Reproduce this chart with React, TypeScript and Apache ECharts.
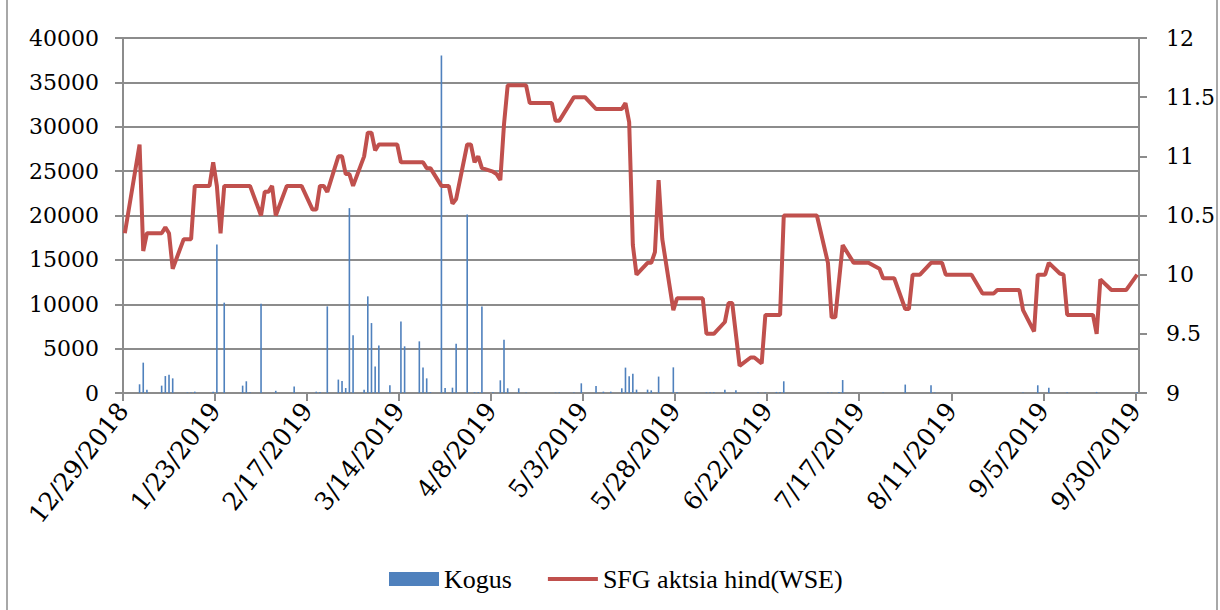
import React, { useEffect, useRef } from "react";
import * as echarts from "echarts";

// ---- data ----
const START_DATE = "2018-12-29";
const AXIS_END_DAY = 276;
const LABEL_STEP_DAYS = 25;

const leftTicks = [0, 5000, 10000, 15000, 20000, 25000, 30000, 35000, 40000];
const rightTicks = [9, 9.5, 10, 10.5, 11, 11.5, 12];

const priceDates = [
  "2018-12-29", "2019-01-02", "2019-01-03", "2019-01-04", "2019-01-08", "2019-01-09", "2019-01-10", "2019-01-11",
  "2019-01-14", "2019-01-16", "2019-01-17", "2019-01-21", "2019-01-22", "2019-01-23", "2019-01-24", "2019-01-25",
  "2019-02-01", "2019-02-04", "2019-02-05", "2019-02-06", "2019-02-07", "2019-02-08", "2019-02-11", "2019-02-15",
  "2019-02-18", "2019-02-19", "2019-02-20", "2019-02-21", "2019-02-22", "2019-02-25", "2019-02-26", "2019-02-27",
  "2019-02-28", "2019-03-01", "2019-03-04", "2019-03-05", "2019-03-06", "2019-03-07", "2019-03-08", "2019-03-13",
  "2019-03-14", "2019-03-20", "2019-03-21", "2019-03-22", "2019-03-25", "2019-03-27", "2019-03-28", "2019-03-29",
  "2019-04-01", "2019-04-02", "2019-04-03", "2019-04-04", "2019-04-05", "2019-04-08", "2019-04-09", "2019-04-10",
  "2019-04-11", "2019-04-12", "2019-04-17", "2019-04-18", "2019-04-24", "2019-04-25", "2019-04-26", "2019-04-30",
  "2019-05-03", "2019-05-06", "2019-05-13", "2019-05-14", "2019-05-15", "2019-05-16", "2019-05-17", "2019-05-20",
  "2019-05-21", "2019-05-22", "2019-05-23", "2019-05-24", "2019-05-27", "2019-05-28", "2019-06-04", "2019-06-05",
  "2019-06-07", "2019-06-10", "2019-06-11", "2019-06-12", "2019-06-14", "2019-06-17", "2019-06-18", "2019-06-20",
  "2019-06-21", "2019-06-25", "2019-06-26", "2019-07-05", "2019-07-08", "2019-07-09", "2019-07-10", "2019-07-12",
  "2019-07-15", "2019-07-19", "2019-07-22", "2019-07-23", "2019-07-26", "2019-07-29", "2019-07-30", "2019-07-31",
  "2019-08-02", "2019-08-05", "2019-08-08", "2019-08-09", "2019-08-16", "2019-08-19", "2019-08-22", "2019-08-23",
  "2019-08-29", "2019-08-30", "2019-09-02", "2019-09-03", "2019-09-05", "2019-09-06", "2019-09-09", "2019-09-10",
  "2019-09-11", "2019-09-18", "2019-09-19", "2019-09-20", "2019-09-23", "2019-09-27", "2019-09-30",
];
const priceValues = [
  10.35, 11.1, 10.2, 10.35, 10.35, 10.4, 10.35, 10.05,
  10.3, 10.3, 10.75, 10.75, 10.95, 10.75, 10.35, 10.75,
  10.75, 10.5, 10.7, 10.7, 10.75, 10.5, 10.75, 10.75,
  10.55, 10.55, 10.75, 10.75, 10.7, 11.0, 11.0, 10.85,
  10.85, 10.75, 11.0, 11.2, 11.2, 11.05, 11.1, 11.1,
  10.95, 10.95, 10.9, 10.9, 10.75, 10.75, 10.6, 10.64,
  11.1, 11.1, 10.95, 11.0, 10.9, 10.87, 10.85, 10.8,
  11.27, 11.6, 11.6, 11.45, 11.45, 11.3, 11.3, 11.5,
  11.5, 11.4, 11.4, 11.45, 11.29, 10.25, 10.0, 10.1,
  10.1, 10.19, 10.8, 10.3, 9.7, 9.8, 9.8, 9.5,
  9.5, 9.6, 9.76, 9.76, 9.23, 9.3, 9.3, 9.25,
  9.66, 9.66, 10.5, 10.5, 10.1, 9.64, 9.64, 10.25,
  10.1, 10.1, 10.05, 9.97, 9.97, 9.71, 9.71, 10.0,
  10.0, 10.1, 10.1, 10.0, 10.0, 9.84, 9.84, 9.87,
  9.87, 9.7, 9.52, 10.0, 10.0, 10.1, 10.01, 10.0,
  9.66, 9.66, 9.5, 9.96, 9.87, 9.87, 10.0,
];

const volumeDates = [
  "2019-01-02", "2019-01-03", "2019-01-04", "2019-01-08", "2019-01-09", "2019-01-10", "2019-01-11", "2019-01-15",
  "2019-01-16", "2019-01-17", "2019-01-22", "2019-01-23", "2019-01-25", "2019-01-30", "2019-01-31", "2019-02-01",
  "2019-02-04", "2019-02-08", "2019-02-13", "2019-02-19", "2019-02-20", "2019-02-22", "2019-02-25", "2019-02-26",
  "2019-02-27", "2019-02-28", "2019-03-01", "2019-03-04", "2019-03-05", "2019-03-06", "2019-03-07", "2019-03-08",
  "2019-03-11", "2019-03-14", "2019-03-15", "2019-03-19", "2019-03-20", "2019-03-21", "2019-03-22", "2019-03-25",
  "2019-03-26", "2019-03-28", "2019-03-29", "2019-04-01", "2019-04-03", "2019-04-04", "2019-04-05", "2019-04-08",
  "2019-04-10", "2019-04-11", "2019-04-12", "2019-04-15", "2019-04-17", "2019-04-25", "2019-04-26", "2019-04-30",
  "2019-05-02", "2019-05-06", "2019-05-08", "2019-05-10", "2019-05-13", "2019-05-14", "2019-05-15", "2019-05-16",
  "2019-05-17", "2019-05-20", "2019-05-21", "2019-05-23", "2019-05-27", "2019-05-28", "2019-06-05", "2019-06-06",
  "2019-06-07", "2019-06-10", "2019-06-13", "2019-06-19", "2019-06-21", "2019-06-24", "2019-06-25", "2019-06-26",
  "2019-07-08", "2019-07-09", "2019-07-11", "2019-07-12", "2019-07-23", "2019-07-29", "2019-08-05", "2019-08-06",
  "2019-08-30", "2019-09-03", "2019-09-06", "2019-09-11", "2019-09-19", "2019-09-30",
];
const volumeValues = [
  980, 3420, 380, 830, 1910, 2070, 1650, 60,
  60, 150, 150, 16740, 10180, 830, 1320, 80,
  10070, 250, 720, 150, 100, 9760, 1510, 1350,
  560, 20830, 6500, 380, 10890, 7880, 3000, 5340,
  870, 8070, 5260, 5820, 2860, 1650, 100, 38030,
  560, 600, 5560, 20120, 100, 100, 9760, 80,
  1430, 6010, 530, 530, 60, 60, 60, 60,
  1090, 790, 150, 150, 530, 2860, 1880, 2180,
  380, 380, 300, 1850, 2890, 100, 80, 80,
  80, 380, 300, 60, 60, 120, 120, 1320,
  60, 60, 100, 1460, 60, 950, 870, 60,
  60, 870, 600, 80, 120, 100,
];

const volumeName = "Kogus";
const priceName = "SFG aktsia hind(WSE)";

// ---- helpers ----
const DAY_MS = 86400000;
function toUTC(iso: string): number {
  const [y, m, d] = iso.split("-").map(Number);
  return Date.UTC(y, m - 1, d);
}
const START_MS = toUTC(START_DATE);
// a date sits in the middle of its one-day slot (date axis, bars between ticks)
function dayPos(iso: string): number {
  return Math.round((toUTC(iso) - START_MS) / DAY_MS) + 0.5;
}
function dayLabel(v: number): string {
  if (Math.abs(v % LABEL_STEP_DAYS) > 1e-6) return "";
  const t = new Date(START_MS + v * DAY_MS);
  return `${t.getUTCMonth() + 1}/${t.getUTCDate()}/${t.getUTCFullYear()}`;
}

const AXIS_FONT = "DejaVu Serif";
const LEGEND_FONT = "Liberation Serif";
const GRID_GRAY = "#8c8c8c";
const BLUE = "#4F81BD";
const RED = "#C0504D";

export default function App() {
  const ref = useRef<HTMLDivElement>(null);

  useEffect(() => {
    if (!ref.current) return;
    const chart = echarts.init(ref.current, null, { renderer: "svg" });

    const priceData = priceDates.map((d, i) => [dayPos(d), priceValues[i]]);
    const volumeData = volumeDates.map((d, i) => [dayPos(d), volumeValues[i]]);

    chart.setOption({
      animation: false,
      backgroundColor: "#ffffff",
      grid: {
        left: 123,
        right: 81,
        top: 38,
        bottom: 217,
        containLabel: false,
        outerBoundsMode: "none",
      },
      legend: {
        left: 384,
        top: 561,
        itemWidth: 50,
        itemHeight: 14,
        itemGap: 36,
        symbolKeepAspect: true,
        textStyle: { fontFamily: LEGEND_FONT, fontSize: 26, color: "#000" },
        data: [
          { name: volumeName, icon: "rect" },
          { name: priceName, icon: "path://M0,0 L50,0 L50,4 L0,4 Z" },
        ],
      },
      xAxis: {
        type: "value",
        min: 0,
        max: AXIS_END_DAY,
        interval: LABEL_STEP_DAYS,
        axisLine: { show: true, onZero: false, lineStyle: { color: GRID_GRAY, width: 2 } },
        axisTick: { show: true, length: 8, lineStyle: { color: GRID_GRAY, width: 2 } },
        splitLine: { show: false },
        axisLabel: {
          rotate: 52,
          margin: 13,
          fontFamily: AXIS_FONT,
          fontSize: 25,
          color: "#000",
          formatter: (v: number) => dayLabel(v),
          showMaxLabel: false,
        },
      },
      yAxis: [
        {
          type: "value",
          min: leftTicks[0],
          max: leftTicks[leftTicks.length - 1],
          interval: leftTicks[1] - leftTicks[0],
          axisLine: { show: true, lineStyle: { color: GRID_GRAY, width: 2 } },
          axisTick: { show: true, length: 8, lineStyle: { color: GRID_GRAY, width: 2 } },
          splitLine: { show: true, lineStyle: { color: GRID_GRAY, width: 2 } },
          axisLabel: {
            margin: 24,
            fontFamily: AXIS_FONT,
            fontSize: 22,
            color: "#000",
            formatter: (v: number) => String(v),
          },
        },
        {
          type: "value",
          position: "right",
          min: rightTicks[0],
          max: rightTicks[rightTicks.length - 1],
          interval: rightTicks[1] - rightTicks[0],
          axisLine: { show: true, lineStyle: { color: GRID_GRAY, width: 2 } },
          axisTick: { show: true, length: 8, lineStyle: { color: GRID_GRAY, width: 2 } },
          splitLine: { show: false },
          axisLabel: {
            margin: 27,
            fontFamily: AXIS_FONT,
            fontSize: 22,
            color: "#000",
            formatter: (v: number) => String(v),
          },
        },
      ],
      graphic: [
        {
          type: "rect",
          shape: { x: 7, y: -5, width: 1210, height: 630 },
          style: { fill: "none", stroke: "#8c8c8c", lineWidth: 1.5 },
          silent: true,
          z: -1,
        },
      ],
      series: [
        {
          name: volumeName,
          type: "bar",
          yAxisIndex: 0,
          barWidth: 1.6,
          itemStyle: { color: BLUE },
          data: volumeData,
        },
        {
          name: priceName,
          type: "line",
          yAxisIndex: 1,
          symbol: "none",
          showSymbol: false,
          lineStyle: { color: RED, width: 4 },
          itemStyle: { color: RED },
          data: priceData,
          z: 3,
        },
      ],
    });

    return () => chart.dispose();
  }, []);

  return (
    <div
      ref={ref}
      style={{ position: "fixed", left: 0, top: 0, width: 1220, height: 610 }}
    />
  );
}
